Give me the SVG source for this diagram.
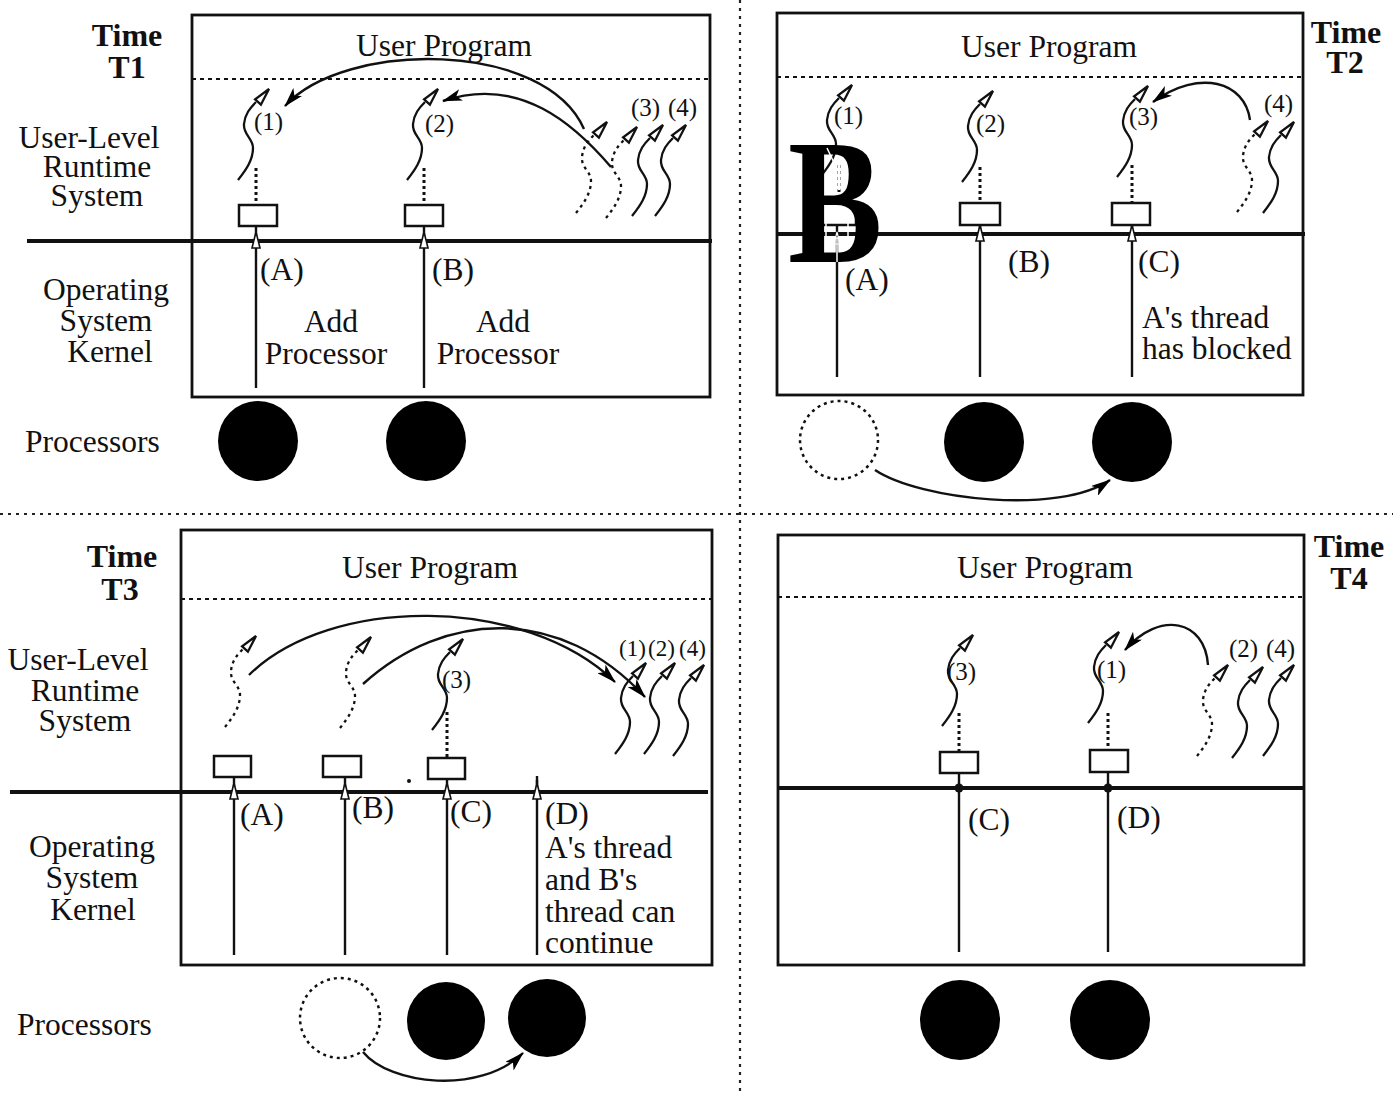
<svg xmlns="http://www.w3.org/2000/svg" xmlns:xlink="http://www.w3.org/1999/xlink" width="1393" height="1096" viewBox="0 0 1393 1096">
<style>
text{font-family:"Liberation Serif","Times New Roman",serif;fill:#111}
.lb{font-size:31.5px}
.tl{font-size:25px}
.ts{font-size:23px}
.bd{font-size:32px;font-weight:bold}
.c{text-anchor:middle}
.box{fill:none;stroke:#111;stroke-width:2.8}
.thick{stroke:#111;stroke-width:4}
.sep{stroke:#111;stroke-width:2;stroke-dasharray:4 4}
.div{stroke:#222;stroke-width:2.2;stroke-dasharray:3 5}
.vl{stroke:#111;stroke-width:2.4}
.dc{stroke:#111;stroke-width:3;stroke-dasharray:3 3}
.rc{fill:#fff;stroke:#111;stroke-width:2.5}
.cv{fill:none;stroke:#111;stroke-width:2.4}
.thr{fill:none;stroke:#111;stroke-width:2.3}
.dt{stroke-dasharray:3 4}
.pf{fill:#000}
.pd{fill:none;stroke:#111;stroke-width:2.5;stroke-dasharray:3 4}
</style>
<defs>
<marker id="ah" markerUnits="userSpaceOnUse" markerWidth="22" markerHeight="12" refX="19" refY="6" orient="auto">
<path d="M0,0 L20,6 L0,12 L5,6 z" fill="#000"/>
</marker>
<g id="th">
<path d="M0,0 C8,-10 15,-20 15,-32 C15,-42 5,-45 6,-56 C7,-66 12,-72 18,-78"/>
<polygon points="31,-91 22.9,-75.3 17.1,-80.7" fill="#fff" stroke-dasharray="none"/>
</g>
<polygon id="va" points="0,-9 4,7 -4,7" fill="#fff" stroke="#111" stroke-width="1.6"/>
</defs>

<g id="dividers">
<line class="div" x1="740" y1="0" x2="740" y2="1096"/>
<line class="div" x1="0" y1="514" x2="1393" y2="514"/>
</g>

<!-- T1 -->
<g id="panel-t1">
<rect class="box" x="192" y="15" width="518" height="382"/>
<line class="sep" x1="192" y1="79" x2="710" y2="79"/>
<line class="thick" x1="27" y1="241" x2="712" y2="241"/>
<text class="bd c" x="127" y="46">Time</text>
<text class="bd c" x="127" y="78">T1</text>
<text class="lb c" x="89" y="148">User-Level</text>
<text class="lb c" x="97" y="177">Runtime</text>
<text class="lb c" x="97" y="206">System</text>
<text class="lb c" x="106" y="300">Operating</text>
<text class="lb c" x="106" y="331">System</text>
<text class="lb c" x="110" y="362">Kernel</text>
<text class="lb" x="25" y="452">Processors</text>
<text class="lb c" x="444" y="56">User Program</text>
</g>
<g id="t1-thread1">
<line class="vl" x1="256" y1="226" x2="256" y2="388"/>
<use xlink:href="#va" x="256" y="241"/>
<line class="dc" x1="256" y1="168" x2="256" y2="204"/>
<rect class="rc" x="239" y="205" width="38" height="21"/>
<use class="thr" xlink:href="#th" x="238" y="180"/>
<text class="tl" x="254" y="130">(1)</text>
<text class="lb" x="260" y="280">(A)</text>
<text class="lb c" x="331" y="332">Add</text>
<text class="lb c" x="326" y="364">Processor</text>
</g>
<g id="t1-thread2">
<line class="vl" x1="424" y1="226" x2="424" y2="388"/>
<use xlink:href="#va" x="424" y="241"/>
<line class="dc" x1="424" y1="168" x2="424" y2="204"/>
<rect class="rc" x="405" y="205" width="38" height="21"/>
<use class="thr" xlink:href="#th" x="407" y="180"/>
<text class="tl" x="425" y="132">(2)</text>
<text class="lb" x="432" y="280">(B)</text>
<text class="lb c" x="503" y="332">Add</text>
<text class="lb c" x="498" y="364">Processor</text>
</g>
<g id="t1-pool">
<use class="thr dt" xlink:href="#th" x="576" y="213"/>
<use class="thr dt" xlink:href="#th" x="606" y="218"/>
<use class="thr" xlink:href="#th" x="632" y="216"/>
<use class="thr" xlink:href="#th" x="655" y="216"/>
<text class="tl" x="631" y="116">(3)</text>
<text class="tl" x="668" y="116">(4)</text>
</g>
<g id="t1-processors">
<circle class="pf" cx="258" cy="441" r="40"/>
<circle class="pf" cx="426" cy="441" r="40"/>
</g>

<!-- T2 -->
<g id="panel-t2">
<rect class="box" x="777" y="13" width="526" height="382"/>
<line class="sep" x1="777" y1="77" x2="1303" y2="77"/>
<line class="thick" x1="777" y1="234" x2="1305" y2="234"/>
<text class="bd c" x="1346" y="43">Time</text>
<text class="bd c" x="1345" y="73">T2</text>
<text class="lb c" x="1049" y="57">User Program</text>
</g>
<g id="t2-thread1">
<line class="vl" x1="837" y1="226" x2="837" y2="377"/>
<line class="dc" x1="839" y1="165" x2="839" y2="202"/>
<rect class="rc" x="818" y="203" width="38" height="22"/>
<use class="thr" xlink:href="#th" x="821" y="176"/>
<text transform="translate(788,262) scale(0.8,1)" x="0" y="0" style="font-size:177px;font-weight:bold;fill:#000">B</text>
<line stroke="#fff" stroke-width="1.5" x1="827" y1="148" x2="836" y2="167"/>
<line stroke="#fff" stroke-width="2.5" stroke-dasharray="3 3" x1="839" y1="165" x2="839" y2="190"/>
<rect fill="none" stroke="#fff" stroke-width="1.5" x="826" y="222" width="22" height="16"/>
<line stroke="#fff" stroke-width="1.5" x1="837" y1="238" x2="837" y2="262"/>
<polygon points="837,232 840,244 834,244" fill="none" stroke="#fff" stroke-width="1.2"/>
<text class="tl" x="834" y="124">(1)</text>
<text class="lb" x="845" y="290">(A)</text>
</g>
<g id="t2-thread2">
<line class="vl" x1="980" y1="225" x2="980" y2="377"/>
<use xlink:href="#va" x="980" y="234"/>
<line class="dc" x1="980" y1="167" x2="980" y2="202"/>
<rect class="rc" x="960" y="203" width="40" height="22"/>
<use class="thr" xlink:href="#th" x="962" y="182"/>
<text class="tl" x="976" y="132">(2)</text>
<text class="lb" x="1008" y="272">(B)</text>
</g>
<g id="t2-thread3">
<line class="vl" x1="1132" y1="226" x2="1132" y2="377"/>
<use xlink:href="#va" x="1132" y="234"/>
<line class="dc" x1="1132" y1="165" x2="1132" y2="202"/>
<rect class="rc" x="1112" y="203" width="38" height="22"/>
<use class="thr" xlink:href="#th" x="1117" y="177"/>
<text class="tl" x="1129" y="125">(3)</text>
<text class="lb" x="1138" y="272">(C)</text>
<text class="lb" x="1142" y="328">A's thread</text>
<text class="lb" x="1142" y="359">has blocked</text>
</g>
<g id="t2-pool">
<use class="thr dt" xlink:href="#th" x="1237" y="212"/>
<use class="thr" xlink:href="#th" x="1263" y="213"/>
<text class="tl" x="1264" y="112">(4)</text>
</g>
<g id="t2-processors">
<circle class="pd" cx="839" cy="440" r="39"/>
<circle class="pf" cx="984" cy="442" r="40"/>
<circle class="pf" cx="1132" cy="442" r="40"/>
</g>

<!-- T3 -->
<g id="panel-t3">
<rect class="box" x="181" y="530" width="531" height="435"/>
<line class="sep" x1="181" y1="599" x2="712" y2="599"/>
<line class="thick" x1="10" y1="792" x2="708" y2="792"/>
<text class="bd c" x="122" y="567">Time</text>
<text class="bd c" x="120" y="600">T3</text>
<text class="lb c" x="78" y="670">User-Level</text>
<text class="lb c" x="85" y="701">Runtime</text>
<text class="lb c" x="85" y="731">System</text>
<text class="lb c" x="92" y="857">Operating</text>
<text class="lb c" x="92" y="888">System</text>
<text class="lb c" x="93" y="920">Kernel</text>
<text class="lb" x="17" y="1035">Processors</text>
<text class="lb c" x="430" y="578">User Program</text>
</g>
<g id="t3-a">
<line class="vl" x1="234" y1="777" x2="234" y2="955"/>
<use xlink:href="#va" x="234" y="792"/>
<rect class="rc" x="214" y="756" width="37" height="21"/>
<use class="thr dt" xlink:href="#th" x="225" y="727"/>
<text class="lb" x="240" y="825">(A)</text>
</g>
<g id="t3-b">
<line class="vl" x1="345" y1="777" x2="345" y2="955"/>
<use xlink:href="#va" x="345" y="792"/>
<rect class="rc" x="323" y="756" width="38" height="21"/>
<use class="thr dt" xlink:href="#th" x="340" y="728"/>
<text class="lb" x="352" y="818">(B)</text>
</g>
<g id="t3-c">
<line class="vl" x1="447" y1="779" x2="447" y2="955"/>
<use xlink:href="#va" x="447" y="792"/>
<line class="dc" x1="447" y1="712" x2="447" y2="757"/>
<rect class="rc" x="428" y="758" width="37" height="21"/>
<use class="thr" xlink:href="#th" x="432" y="730"/>
<circle cx="409" cy="781" r="2" fill="#111"/>
<text class="tl" x="442" y="688">(3)</text>
<text class="lb" x="450" y="822">(C)</text>
</g>
<g id="t3-d">
<line class="vl" x1="537" y1="780" x2="537" y2="955"/>
<use xlink:href="#va" x="537" y="792"/>
<line class="vl" x1="537" y1="776" x2="537" y2="784"/>
<text class="lb" x="545" y="824">(D)</text>
<text class="lb" x="545" y="858">A's thread</text>
<text class="lb" x="545" y="890">and B's</text>
<text class="lb" x="545" y="922">thread can</text>
<text class="lb" x="545" y="953">continue</text>
</g>
<g id="t3-pool">
<use class="thr" xlink:href="#th" x="615" y="754"/>
<use class="thr" xlink:href="#th" x="644" y="754"/>
<use class="thr" xlink:href="#th" x="673" y="756"/>
<text class="ts" x="619" y="656">(1)</text>
<text class="ts" x="648" y="656">(2)</text>
<text class="ts" x="679" y="656">(4)</text>
</g>
<g id="t3-processors">
<circle class="pd" cx="340" cy="1018" r="40"/>
<circle class="pf" cx="446" cy="1021" r="39"/>
<circle class="pf" cx="547" cy="1018" r="39"/>
</g>

<!-- T4 -->
<g id="panel-t4">
<rect class="box" x="778" y="535" width="526" height="430"/>
<line class="sep" x1="778" y1="597" x2="1304" y2="597"/>
<line class="thick" x1="778" y1="788" x2="1305" y2="788"/>
<text class="bd c" x="1349" y="557">Time</text>
<text class="bd c" x="1349" y="589">T4</text>
<text class="lb c" x="1045" y="578">User Program</text>
</g>
<g id="t4-c">
<line class="vl" x1="959" y1="773" x2="959" y2="952"/>
<circle cx="959" cy="788" r="4.5" fill="#111"/>
<line class="dc" x1="959" y1="713" x2="959" y2="751"/>
<rect class="rc" x="940" y="752" width="38" height="21"/>
<use class="thr" xlink:href="#th" x="942" y="726"/>
<text class="tl" x="947" y="680">(3)</text>
<text class="lb" x="968" y="830">(C)</text>
</g>
<g id="t4-d">
<line class="vl" x1="1108" y1="772" x2="1108" y2="952"/>
<circle cx="1108" cy="788" r="4.5" fill="#111"/>
<line class="dc" x1="1108" y1="713" x2="1108" y2="749"/>
<rect class="rc" x="1090" y="750" width="38" height="22"/>
<use class="thr" xlink:href="#th" x="1088" y="723"/>
<text class="tl" x="1097" y="678">(1)</text>
<text class="lb" x="1117" y="828">(D)</text>
</g>
<g id="t4-pool">
<use class="thr dt" xlink:href="#th" x="1197" y="756"/>
<use class="thr" xlink:href="#th" x="1232" y="758"/>
<use class="thr" xlink:href="#th" x="1263" y="756"/>
<text class="tl" x="1229" y="657">(2)</text>
<text class="tl" x="1266" y="657">(4)</text>
</g>
<g id="t4-processors">
<circle class="pf" cx="960" cy="1020" r="40"/>
<circle class="pf" cx="1110" cy="1020" r="40"/>
</g>

<g id="connectors">
<path class="cv" d="M584,129 C545,40 345,40 285,106" marker-end="url(#ah)"/>
<path class="cv" d="M611,167 C575,125 520,75 443,101" marker-end="url(#ah)"/>
<path class="cv" d="M1250,120 C1245,82 1200,68 1153,102" marker-end="url(#ah)"/>
<path class="cv" d="M875,470 C920,500 1060,515 1110,480" marker-end="url(#ah)"/>
<path class="cv" d="M249,675 C330,595 525,595 615,682" marker-end="url(#ah)"/>
<path class="cv" d="M363,684 C445,610 560,605 645,697" marker-end="url(#ah)"/>
<path class="cv" d="M363,1052 C390,1085 480,1095 523,1053" marker-end="url(#ah)"/>
<path class="cv" d="M1208,665 C1205,620 1160,610 1125,650" marker-end="url(#ah)"/>
</g>
</svg>
